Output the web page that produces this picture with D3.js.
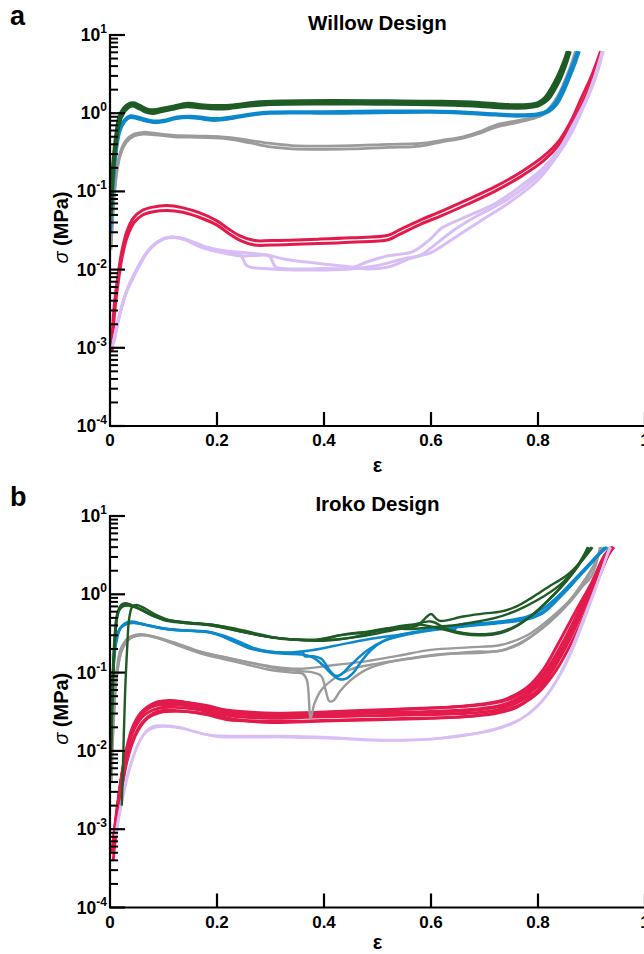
<!DOCTYPE html>
<html>
<head>
<meta charset="utf-8">
<script src="https://cdn.jsdelivr.net/npm/d3@7"></script>
<style>
  body { margin: 0; background: #fff; }
  svg { display: block; font-family: "Liberation Sans", Arial, sans-serif; }
</style>
</head>
<body>
<svg id="fig" width="644" height="954"></svg>
<script>
// ---------- axis ticks ----------
const xTickValues = [0, 0.2, 0.4, 0.6, 0.8, 1];
const xTickLabels = ["0", "0.2", "0.4", "0.6", "0.8", "1"];
const yDecadeExponents = [-4, -3, -2, -1, 0, 1];
const yMinorMultipliers = [2, 3, 4, 5, 6, 7, 8, 9];

// ---------- Willow design: strain ε vs stress σ (MPa), replicate runs ----------
const willowGreen = [
  [[0.002,0.06],[0.006,0.2],[0.011,0.45],[0.017,0.8],[0.025,1.08],[0.034,1.25],[0.043,1.3],[0.055,1.2],[0.068,1.08],[0.08,1.05],[0.095,1.1],[0.115,1.18],[0.143,1.28],[0.17,1.22],[0.2,1.19],[0.22,1.2],[0.26,1.3],[0.3,1.36],[0.4,1.38],[0.5,1.37],[0.6,1.35],[0.68,1.3],[0.74,1.22],[0.78,1.23],[0.8,1.3],[0.815,1.5],[0.828,2.0],[0.84,2.9],[0.85,4.3],[0.857,6.2]],
  [[0.002,0.07],[0.006,0.24],[0.011,0.52],[0.017,0.9],[0.025,1.15],[0.034,1.3],[0.044,1.35],[0.056,1.25],[0.07,1.12],[0.082,1.1],[0.1,1.16],[0.12,1.23],[0.145,1.33],[0.175,1.27],[0.205,1.25],[0.23,1.27],[0.27,1.37],[0.32,1.42],[0.42,1.44],[0.52,1.43],[0.62,1.41],[0.69,1.36],[0.745,1.28],[0.78,1.28],[0.8,1.36],[0.813,1.58],[0.825,2.1],[0.837,3.0],[0.848,4.5],[0.855,6.2]],
  [[0.002,0.05],[0.006,0.18],[0.011,0.4],[0.017,0.72],[0.025,1.0],[0.034,1.18],[0.043,1.24],[0.055,1.14],[0.068,1.03],[0.08,1.0],[0.095,1.05],[0.115,1.12],[0.143,1.22],[0.17,1.17],[0.2,1.14],[0.22,1.15],[0.26,1.24],[0.3,1.3],[0.4,1.32],[0.5,1.31],[0.6,1.29],[0.68,1.24],[0.74,1.17],[0.78,1.18],[0.802,1.26],[0.818,1.48],[0.83,1.95],[0.842,2.8],[0.852,4.2],[0.86,6.2]]
];
const willowBlue = [
  [[0.001,0.03],[0.005,0.1],[0.011,0.3],[0.018,0.58],[0.027,0.78],[0.037,0.88],[0.05,0.86],[0.065,0.8],[0.085,0.76],[0.1,0.78],[0.125,0.86],[0.15,0.88],[0.175,0.84],[0.195,0.81],[0.22,0.84],[0.26,0.94],[0.3,1.0],[0.35,1.01],[0.4,1.0],[0.5,1.02],[0.6,1.03],[0.66,1.0],[0.72,0.95],[0.76,0.92],[0.8,0.95],[0.82,1.05],[0.835,1.3],[0.848,1.9],[0.86,3.0],[0.87,4.5],[0.877,6.2]],
  [[0.001,0.035],[0.005,0.12],[0.011,0.34],[0.018,0.63],[0.027,0.82],[0.037,0.92],[0.05,0.9],[0.065,0.84],[0.085,0.79],[0.1,0.81],[0.125,0.89],[0.15,0.91],[0.175,0.88],[0.195,0.85],[0.22,0.88],[0.26,0.97],[0.3,1.03],[0.35,1.04],[0.4,1.04],[0.5,1.06],[0.6,1.06],[0.66,1.03],[0.72,0.98],[0.76,0.95],[0.8,0.98],[0.818,1.08],[0.832,1.35],[0.845,2.0],[0.857,3.1],[0.867,4.6],[0.874,6.2]]
];
const willowGray = [
  [[0.002,0.02],[0.007,0.08],[0.013,0.2],[0.02,0.33],[0.03,0.45],[0.045,0.54],[0.062,0.57],[0.085,0.55],[0.12,0.52],[0.17,0.51],[0.22,0.49],[0.26,0.45],[0.3,0.41],[0.34,0.385],[0.39,0.38],[0.45,0.385],[0.52,0.4],[0.58,0.41],[0.62,0.45],[0.66,0.5],[0.69,0.58],[0.72,0.7],[0.76,0.8],[0.79,0.88],[0.81,1.0],[0.825,1.25],[0.84,1.8],[0.853,2.9],[0.863,4.4],[0.87,6.2]],
  [[0.002,0.018],[0.007,0.07],[0.013,0.18],[0.02,0.3],[0.03,0.42],[0.045,0.51],[0.062,0.54],[0.085,0.53],[0.12,0.5],[0.17,0.49],[0.22,0.47],[0.26,0.42],[0.3,0.37],[0.34,0.35],[0.39,0.345],[0.45,0.35],[0.52,0.365],[0.58,0.38],[0.62,0.43],[0.66,0.48],[0.69,0.55],[0.72,0.66],[0.76,0.76],[0.79,0.85],[0.81,0.96],[0.826,1.2],[0.841,1.75],[0.855,2.8],[0.865,4.3],[0.872,6.2]]
];
const willowRed = [
  [[0.003,0.001],[0.008,0.0035],[0.015,0.0085],[0.022,0.017],[0.031,0.03],[0.044,0.046],[0.06,0.057],[0.08,0.063],[0.106,0.066],[0.135,0.062],[0.168,0.053],[0.2,0.042],[0.222,0.033],[0.243,0.027],[0.27,0.0235],[0.3,0.0235],[0.39,0.0245],[0.45,0.0255],[0.52,0.0275],[0.54,0.032],[0.58,0.043],[0.62,0.056],[0.667,0.078],[0.72,0.115],[0.77,0.18],[0.81,0.28],[0.84,0.45],[0.862,0.8],[0.88,1.5],[0.9,3.0],[0.917,6.2]],
  [[0.004,0.0009],[0.009,0.003],[0.016,0.0074],[0.023,0.0148],[0.032,0.026],[0.045,0.04],[0.061,0.05],[0.081,0.055],[0.107,0.057],[0.136,0.054],[0.169,0.046],[0.2,0.037],[0.222,0.029],[0.244,0.0235],[0.27,0.0206],[0.3,0.0206],[0.39,0.0215],[0.45,0.0224],[0.52,0.0241],[0.54,0.028],[0.58,0.038],[0.62,0.049],[0.667,0.068],[0.72,0.101],[0.77,0.158],[0.81,0.245],[0.84,0.4],[0.864,0.72],[0.883,1.35],[0.903,2.8],[0.92,6.2]]
];
const willowLavender = [
  [[0.004,0.001],[0.015,0.0022],[0.03,0.005],[0.043,0.0078],[0.06,0.013],[0.075,0.0187],[0.095,0.024],[0.112,0.026],[0.14,0.024],[0.168,0.0195],[0.2,0.017],[0.243,0.015],[0.27,0.0152],[0.298,0.0148],[0.31,0.0108],[0.35,0.0102],[0.4,0.0103],[0.45,0.0105],[0.48,0.0125],[0.52,0.015],[0.566,0.017],[0.6,0.025],[0.62,0.034],[0.667,0.048],[0.72,0.07],[0.77,0.12],[0.81,0.2],[0.84,0.35],[0.865,0.7],[0.89,1.5],[0.91,3.4],[0.922,6.2]],
  [[0.006,0.0011],[0.017,0.0025],[0.032,0.0055],[0.045,0.0085],[0.062,0.014],[0.078,0.0195],[0.098,0.0245],[0.115,0.0262],[0.14,0.0245],[0.17,0.02],[0.2,0.0172],[0.243,0.0156],[0.256,0.0112],[0.3,0.0102],[0.35,0.0099],[0.4,0.0099],[0.45,0.0102],[0.5,0.0113],[0.55,0.0138],[0.58,0.0152],[0.6,0.019],[0.64,0.031],[0.68,0.046],[0.73,0.07],[0.78,0.12],[0.82,0.22],[0.85,0.4],[0.872,0.8],[0.895,1.7],[0.912,3.5],[0.921,6.2]],
  [[0.008,0.0012],[0.019,0.0028],[0.034,0.006],[0.048,0.0095],[0.064,0.015],[0.08,0.02],[0.1,0.0245],[0.118,0.026],[0.145,0.024],[0.175,0.02],[0.21,0.0175],[0.25,0.0165],[0.29,0.0155],[0.33,0.0135],[0.38,0.0122],[0.44,0.011],[0.48,0.0102],[0.52,0.0108],[0.56,0.0138],[0.6,0.0165],[0.625,0.021],[0.66,0.03],[0.7,0.045],[0.75,0.075],[0.8,0.14],[0.835,0.28],[0.862,0.55],[0.885,1.2],[0.905,2.8],[0.92,6.2]]
];

// ---------- Iroko design ----------
const irokoGreen = [
  [[0.001,0.005],[0.004,0.05],[0.008,0.25],[0.013,0.55],[0.02,0.72],[0.028,0.77],[0.04,0.73],[0.06,0.63],[0.08,0.53],[0.106,0.47],[0.14,0.44],[0.168,0.42],[0.2,0.4],[0.23,0.36],[0.27,0.31],[0.305,0.28],[0.35,0.265],[0.42,0.265],[0.47,0.29],[0.53,0.35],[0.575,0.4],[0.59,0.5],[0.6,0.56],[0.615,0.46],[0.66,0.52],[0.7,0.57],[0.73,0.6],[0.76,0.7],[0.79,0.92],[0.82,1.25],[0.854,1.75],[0.88,2.6],[0.902,4.0]],
  [[0.022,0.002],[0.025,0.01],[0.028,0.05],[0.032,0.2],[0.036,0.5],[0.042,0.7],[0.05,0.73],[0.065,0.66],[0.085,0.55],[0.11,0.47],[0.15,0.43],[0.19,0.41],[0.23,0.37],[0.27,0.32],[0.31,0.28],[0.36,0.26],[0.4,0.255],[0.45,0.28],[0.5,0.34],[0.55,0.4],[0.58,0.41],[0.62,0.36],[0.66,0.31],[0.7,0.3],[0.73,0.32],[0.76,0.39],[0.79,0.55],[0.82,0.85],[0.85,1.4],[0.875,2.4],[0.895,4.0]],
  [[0.002,0.01],[0.006,0.08],[0.01,0.3],[0.016,0.6],[0.024,0.7],[0.035,0.72],[0.05,0.67],[0.075,0.56],[0.1,0.48],[0.13,0.44],[0.17,0.42],[0.21,0.38],[0.25,0.33],[0.29,0.29],[0.33,0.27],[0.38,0.26],[0.43,0.3],[0.48,0.33],[0.52,0.37],[0.56,0.36],[0.6,0.38],[0.64,0.4],[0.68,0.44],[0.72,0.5],[0.76,0.62],[0.8,0.85],[0.84,1.3],[0.87,2.1],[0.89,3.2],[0.9,4.0]],
  [[0.001,0.008],[0.005,0.06],[0.009,0.28],[0.015,0.58],[0.022,0.73],[0.032,0.74],[0.045,0.7],[0.07,0.58],[0.1,0.47],[0.14,0.43],[0.19,0.4],[0.24,0.34],[0.28,0.3],[0.32,0.27],[0.37,0.26],[0.4,0.27],[0.44,0.31],[0.5,0.34],[0.55,0.38],[0.6,0.45],[0.63,0.36],[0.66,0.32],[0.7,0.31],[0.73,0.33],[0.76,0.4],[0.79,0.55],[0.82,0.85],[0.85,1.4],[0.875,2.3],[0.893,4.0]]
];
const irokoBlue = [
  [[0.001,0.01],[0.004,0.06],[0.009,0.2],[0.016,0.34],[0.027,0.42],[0.04,0.45],[0.06,0.42],[0.08,0.39],[0.106,0.36],[0.14,0.345],[0.18,0.335],[0.21,0.29],[0.235,0.245],[0.26,0.205],[0.29,0.188],[0.33,0.18],[0.37,0.19],[0.42,0.22],[0.48,0.265],[0.55,0.31],[0.6,0.35],[0.65,0.39],[0.7,0.42],[0.74,0.45],[0.78,0.5],[0.81,0.6],[0.835,0.85],[0.86,1.25],[0.89,2.2],[0.912,3.2],[0.928,4.0]],
  [[0.002,0.015],[0.005,0.08],[0.01,0.22],[0.018,0.36],[0.03,0.43],[0.043,0.44],[0.065,0.41],[0.09,0.375],[0.12,0.35],[0.16,0.34],[0.195,0.32],[0.22,0.27],[0.25,0.22],[0.28,0.19],[0.32,0.175],[0.36,0.17],[0.38,0.155],[0.4,0.12],[0.415,0.095],[0.428,0.083],[0.44,0.083],[0.455,0.1],[0.47,0.14],[0.49,0.2],[0.51,0.25],[0.54,0.3],[0.58,0.34],[0.62,0.38],[0.638,0.39],[0.642,0.33],[0.65,0.4],[0.7,0.43],[0.74,0.46],[0.78,0.52],[0.81,0.66],[0.84,0.98],[0.87,1.6],[0.9,2.6],[0.93,4.0]],
  [[0.002,0.02],[0.006,0.1],[0.012,0.25],[0.02,0.37],[0.032,0.42],[0.045,0.43],[0.07,0.4],[0.1,0.365],[0.14,0.345],[0.18,0.33],[0.21,0.3],[0.24,0.25],[0.27,0.205],[0.3,0.185],[0.34,0.178],[0.36,0.182],[0.364,0.162],[0.38,0.162],[0.395,0.15],[0.41,0.108],[0.42,0.092],[0.43,0.093],[0.45,0.125],[0.48,0.19],[0.51,0.25],[0.56,0.31],[0.62,0.36],[0.68,0.4],[0.73,0.43],[0.78,0.48],[0.81,0.58],[0.84,0.9],[0.87,1.5],[0.9,2.5],[0.925,4.0]]
];
const irokoGray = [
  [[0.002,0.005],[0.006,0.03],[0.012,0.1],[0.02,0.2],[0.035,0.28],[0.056,0.31],[0.08,0.29],[0.12,0.235],[0.168,0.185],[0.2,0.165],[0.26,0.135],[0.3,0.12],[0.355,0.112],[0.42,0.125],[0.48,0.14],[0.54,0.165],[0.6,0.195],[0.67,0.21],[0.73,0.225],[0.78,0.3],[0.816,0.45],[0.85,0.72],[0.88,1.2],[0.9,1.7],[0.916,4.0]],
  [[0.003,0.004],[0.007,0.025],[0.013,0.09],[0.022,0.19],[0.037,0.27],[0.058,0.3],[0.085,0.28],[0.125,0.225],[0.17,0.175],[0.21,0.15],[0.26,0.125],[0.3,0.108],[0.34,0.1],[0.36,0.097],[0.368,0.08],[0.375,0.026],[0.382,0.04],[0.395,0.06],[0.42,0.085],[0.45,0.11],[0.5,0.13],[0.56,0.15],[0.62,0.17],[0.68,0.185],[0.73,0.19],[0.77,0.24],[0.81,0.38],[0.85,0.7],[0.88,1.3],[0.905,2.4],[0.918,4.0]],
  [[0.003,0.006],[0.008,0.035],[0.014,0.11],[0.024,0.21],[0.04,0.28],[0.06,0.305],[0.09,0.28],[0.13,0.23],[0.175,0.18],[0.22,0.155],[0.27,0.13],[0.31,0.113],[0.35,0.105],[0.38,0.1],[0.395,0.09],[0.403,0.06],[0.41,0.043],[0.418,0.044],[0.43,0.058],[0.45,0.08],[0.48,0.11],[0.52,0.135],[0.58,0.16],[0.64,0.175],[0.7,0.18],[0.74,0.2],[0.78,0.27],[0.82,0.43],[0.86,0.8],[0.89,1.5],[0.91,2.8],[0.92,4.0]]
];
const irokoRed = [
  [[0.004,0.0005],[0.01,0.0012],[0.018,0.003],[0.028,0.008],[0.04,0.017],[0.055,0.028],[0.075,0.037],[0.1,0.041],[0.13,0.04],[0.17,0.036],[0.21,0.031],[0.26,0.029],[0.32,0.029],[0.4,0.03],[0.5,0.031],[0.6,0.032],[0.68,0.034],[0.73,0.038],[0.77,0.05],[0.8,0.075],[0.83,0.14],[0.86,0.33],[0.89,0.9],[0.915,2.2],[0.935,4.0]],
  [[0.006,0.0004],[0.012,0.001],[0.02,0.0025],[0.03,0.007],[0.045,0.015],[0.06,0.023],[0.08,0.03],[0.1,0.033],[0.14,0.032],[0.18,0.029],[0.22,0.025],[0.28,0.024],[0.36,0.024],[0.45,0.025],[0.55,0.026],[0.65,0.027],[0.72,0.03],[0.76,0.036],[0.79,0.05],[0.82,0.09],[0.85,0.2],[0.88,0.55],[0.905,1.5],[0.925,3.0],[0.94,4.0]],
  [[0.005,0.0006],[0.012,0.0016],[0.02,0.004],[0.03,0.01],[0.042,0.02],[0.058,0.031],[0.08,0.04],[0.11,0.044],[0.14,0.042],[0.18,0.038],[0.22,0.033],[0.27,0.031],[0.35,0.03],[0.45,0.032],[0.55,0.034],[0.63,0.036],[0.7,0.04],[0.74,0.046],[0.78,0.065],[0.81,0.11],[0.84,0.25],[0.87,0.6],[0.9,1.4],[0.925,3.2],[0.94,4.0]],
  [[0.007,0.0007],[0.014,0.0018],[0.022,0.005],[0.033,0.011],[0.047,0.02],[0.065,0.029],[0.09,0.035],[0.12,0.036],[0.16,0.034],[0.2,0.03],[0.25,0.027],[0.3,0.026],[0.38,0.027],[0.48,0.028],[0.58,0.029],[0.66,0.03],[0.72,0.033],[0.76,0.041],[0.8,0.06],[0.83,0.12],[0.86,0.28],[0.89,0.8],[0.91,1.8],[0.93,3.5],[0.94,4.0]],
  [[0.005,0.0005],[0.011,0.0013],[0.019,0.0035],[0.029,0.009],[0.043,0.019],[0.06,0.03],[0.085,0.038],[0.115,0.039],[0.15,0.037],[0.19,0.033],[0.23,0.028],[0.29,0.027],[0.37,0.028],[0.47,0.03],[0.57,0.031],[0.65,0.032],[0.71,0.035],[0.75,0.04],[0.78,0.052],[0.81,0.08],[0.845,0.18],[0.875,0.45],[0.9,1.1],[0.925,2.8],[0.938,4.0]],
  [[0.008,0.0006],[0.015,0.0015],[0.024,0.004],[0.035,0.009],[0.05,0.017],[0.07,0.026],[0.095,0.031],[0.125,0.032],[0.16,0.031],[0.2,0.028],[0.24,0.025],[0.3,0.023],[0.4,0.024],[0.5,0.025],[0.6,0.026],[0.68,0.028],[0.73,0.032],[0.77,0.04],[0.8,0.055],[0.835,0.11],[0.865,0.26],[0.895,0.75],[0.915,1.7],[0.932,3.2],[0.942,4.0]],
  [[0.006,0.0006],[0.013,0.0016],[0.021,0.0042],[0.032,0.0105],[0.046,0.021],[0.063,0.033],[0.088,0.042],[0.118,0.043],[0.155,0.04],[0.195,0.035],[0.24,0.031],[0.3,0.03],[0.38,0.031],[0.48,0.033],[0.58,0.035],[0.66,0.037],[0.72,0.041],[0.76,0.05],[0.79,0.068],[0.82,0.12],[0.85,0.27],[0.88,0.7],[0.905,1.6],[0.927,3.3],[0.939,4.0]]
];
const irokoLavender = [
  [[0.01,0.0008],[0.02,0.002],[0.035,0.0055],[0.05,0.011],[0.065,0.017],[0.08,0.0205],[0.1,0.021],[0.13,0.02],[0.16,0.0175],[0.19,0.0158],[0.25,0.0155],[0.32,0.0155],[0.4,0.015],[0.48,0.014],[0.54,0.0138],[0.6,0.0142],[0.66,0.016],[0.71,0.018],[0.75,0.022],[0.78,0.029],[0.81,0.045],[0.84,0.09],[0.865,0.2],[0.89,0.55],[0.91,1.3],[0.928,3.0],[0.936,4.0]],
  [[0.012,0.0009],[0.022,0.0022],[0.037,0.006],[0.052,0.012],[0.068,0.0175],[0.085,0.02],[0.105,0.0205],[0.14,0.019],[0.17,0.0168],[0.2,0.0152],[0.26,0.015],[0.33,0.015],[0.41,0.0145],[0.49,0.0137],[0.55,0.0136],[0.62,0.0145],[0.68,0.0165],[0.73,0.02],[0.77,0.026],[0.8,0.038],[0.83,0.07],[0.855,0.15],[0.88,0.4],[0.905,1.1],[0.925,2.6],[0.934,4.0]]
];

// ---------- styling ----------
const colors = {
  green: "#1e5b25",
  blue: "#0c88cc",
  gray: "#9b9b9b",
  red: "#e31b4c",
  lavender: "#d9bef6"
};

const panels = [
  {
    letter: "a", title: "Willow Design", yTop: 35, yBottom: 426, epsOffset: 46,
    series: [
      { runs: willowRed, color: colors.red, width: 3.0 },
      { runs: willowLavender, color: colors.lavender, width: 3.0 },
      { runs: willowGray, color: colors.gray, width: 2.8 },
      { runs: willowBlue, color: colors.blue, width: 3.2 },
      { runs: willowGreen, color: colors.green, width: 3.4 }
    ]
  },
  {
    letter: "b", title: "Iroko Design", yTop: 516, yBottom: 907.5, epsOffset: 41,
    series: [
      { runs: irokoRed, color: colors.red, width: 2.9 },
      { runs: irokoLavender, color: colors.lavender, width: 2.6 },
      { runs: irokoGray, color: colors.gray, width: 2.4 },
      { runs: irokoBlue, color: colors.blue, width: 2.5 },
      { runs: irokoGreen, color: colors.green, width: 2.4 }
    ]
  }
];

const svg = d3.select("#fig");
const xLeft = 110, xRight = 645;

panels.forEach(p => {
  const g = svg.append("g");
  const x = d3.scaleLinear().domain([0, 1]).range([xLeft, xRight]);
  const y = d3.scaleLog().domain([1e-4, 10]).range([p.yBottom, p.yTop]);

  const line = d3.line()
    .x(d => x(d[0]))
    .y(d => y(d[1]))
    .curve(d3.curveCatmullRom.alpha(0.5));

  // curves
  p.series.forEach(s => {
    g.append("g")
      .selectAll("path")
      .data(s.runs)
      .join("path")
      .attr("d", line)
      .attr("fill", "none")
      .attr("stroke", s.color)
      .attr("stroke-width", s.width)
      .attr("stroke-linejoin", "round");
  });

  // y axis (log, ticks pointing inward)
  const yAxis = g.append("g");
  yAxis.append("line")
    .attr("x1", xLeft).attr("x2", xLeft)
    .attr("y1", p.yTop - 1).attr("y2", p.yBottom)
    .attr("stroke", "#000").attr("stroke-width", 2.2);

  const minorValues = [];
  yDecadeExponents.slice(0, -1).forEach(e => {
    yMinorMultipliers.forEach(m => minorValues.push(m * Math.pow(10, e)));
  });
  yAxis.selectAll("line.minor")
    .data(minorValues)
    .join("line")
    .attr("class", "minor")
    .attr("x1", xLeft).attr("x2", xLeft + 8)
    .attr("y1", d => y(d)).attr("y2", d => y(d))
    .attr("stroke", "#000").attr("stroke-width", 2);
  yAxis.selectAll("line.major")
    .data(yDecadeExponents)
    .join("line")
    .attr("class", "major")
    .attr("x1", xLeft).attr("x2", xLeft + 15)
    .attr("y1", d => y(Math.pow(10, d))).attr("y2", d => y(Math.pow(10, d)))
    .attr("stroke", "#000").attr("stroke-width", 2.2);

  yAxis.selectAll("text.ytick")
    .data(yDecadeExponents)
    .join("text")
    .attr("class", "ytick")
    .attr("x", 107)
    .attr("y", d => y(Math.pow(10, d)) + 6)
    .attr("text-anchor", "end")
    .attr("font-weight", "bold")
    .attr("font-size", 17.5)
    .each(function (d) {
      const t = d3.select(this);
      t.append("tspan").text("10");
      t.append("tspan").attr("dy", -8).attr("font-size", 12).text(String(d));
    });

  // x axis
  const xAxis = g.append("g");
  xAxis.append("line")
    .attr("x1", xLeft - 1).attr("x2", xRight)
    .attr("y1", p.yBottom).attr("y2", p.yBottom)
    .attr("stroke", "#000").attr("stroke-width", 2.2);
  xAxis.selectAll("line.xtick")
    .data(xTickValues.slice(1))
    .join("line")
    .attr("class", "xtick")
    .attr("x1", d => x(d)).attr("x2", d => x(d))
    .attr("y1", p.yBottom).attr("y2", p.yBottom - 14)
    .attr("stroke", "#000").attr("stroke-width", 2.2);
  xAxis.selectAll("text.xtl")
    .data(xTickValues)
    .join("text")
    .attr("class", "xtl")
    .attr("x", d => x(d))
    .attr("y", p.yBottom + 20)
    .attr("text-anchor", "middle")
    .attr("font-weight", "bold")
    .attr("font-size", 17)
    .text((d, i) => xTickLabels[i]);

  // axis titles
  g.append("text")
    .attr("x", x(0.5))
    .attr("y", p.yBottom + p.epsOffset)
    .attr("text-anchor", "middle")
    .attr("font-weight", "bold")
    .attr("font-size", 20)
    .text("ε");

  const yMid = (p.yTop + p.yBottom) / 2;
  const ylab = g.append("text")
    .attr("transform", `translate(68,${yMid - 3}) rotate(-90)`)
    .attr("text-anchor", "middle")
    .attr("font-weight", "bold")
    .attr("font-size", 20);
  ylab.append("tspan").attr("font-style", "italic").attr("font-weight", "normal").text("σ");
  ylab.append("tspan").text(" (MPa)");

  // panel title and letter
  g.append("text")
    .attr("x", x(0.5))
    .attr("y", p.yTop - 5)
    .attr("text-anchor", "middle")
    .attr("font-weight", "bold")
    .attr("font-size", 20.5)
    .text(p.title);
  g.append("text")
    .attr("x", 10)
    .attr("y", p.yTop - 10)
    .attr("font-weight", "bold")
    .attr("font-size", 27)
    .text(p.letter);
});
</script>
</body>
</html>
